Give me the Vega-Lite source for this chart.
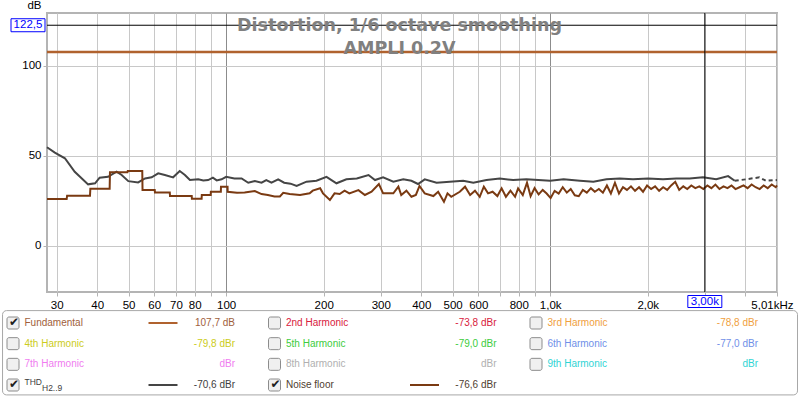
{
  "$schema": "https://vega.github.io/schema/vega-lite/v6.json",
  "width": 730,
  "height": 279,
  "autosize": {"type": "none"},
  "padding": {"left": 47, "top": 13, "right": 23, "bottom": 106},
  "background": "white",
  "config": {
    "view": {"stroke": "#b4b4b4", "strokeWidth": 2},
    "font": "Liberation Sans"
  },
  "title": {
    "text": ["Distortion, 1/6 octave smoothing", "AMPLI 0.2V"],
    "font": "DejaVu Sans",
    "fontSize": 17.5,
    "fontWeight": "bold",
    "color": "#808080",
    "anchor": "middle",
    "frame": "group",
    "orient": "top",
    "baseline": "alphabetic",
    "offset": -72,
    "lineHeight": 22.7,
    "dx": -12.5
  },
  "datasets": {
    "fundamental": [{"f": 28, "db": 107.7}, {"f": 5010, "db": 107.7}],
    "thd": [
      {"f": 28, "db": 54.7}, {"f": 29.6, "db": 51.7}, {"f": 31.8, "db": 48.6}, {"f": 34.1, "db": 41.1},
      {"f": 37.5, "db": 34.1}, {"f": 39.4, "db": 34.7}, {"f": 40.7, "db": 37.8}, {"f": 43.2, "db": 38.3},
      {"f": 45.9, "db": 41.1}, {"f": 47.6, "db": 39.3}, {"f": 49.9, "db": 35.9}, {"f": 53.5, "db": 35.2},
      {"f": 56.2, "db": 37.4}, {"f": 58.9, "db": 38.0}, {"f": 61.7, "db": 40.2}, {"f": 64.7, "db": 39.3},
      {"f": 68.6, "db": 38.0}, {"f": 71.9, "db": 41.5}, {"f": 74.6, "db": 39.3}, {"f": 77.3, "db": 36.5},
      {"f": 82, "db": 36.9}, {"f": 85, "db": 36.3}, {"f": 88, "db": 36.5}, {"f": 91, "db": 37.8},
      {"f": 93.5, "db": 36.3}, {"f": 96.8, "db": 36.9}, {"f": 100, "db": 38.3}, {"f": 106, "db": 37.4},
      {"f": 111.6, "db": 37.4}, {"f": 117, "db": 35.0}, {"f": 122.6, "db": 35.9}, {"f": 128.6, "db": 35.0},
      {"f": 133, "db": 36.5}, {"f": 138, "db": 35.0}, {"f": 144.7, "db": 36.9}, {"f": 151, "db": 35.0},
      {"f": 158, "db": 34.5}, {"f": 165, "db": 33.2}, {"f": 177, "db": 35.6}, {"f": 190, "db": 36.1},
      {"f": 204, "db": 38.3}, {"f": 219, "db": 34.7}, {"f": 235, "db": 36.9}, {"f": 253, "db": 37.4},
      {"f": 275, "db": 39.3}, {"f": 288, "db": 36.5}, {"f": 305, "db": 38.0}, {"f": 328, "db": 35.6},
      {"f": 352, "db": 36.9}, {"f": 373, "db": 36.1}, {"f": 391, "db": 34.3}, {"f": 410, "db": 36.9},
      {"f": 446, "db": 35.0}, {"f": 490, "db": 35.6}, {"f": 539, "db": 36.1}, {"f": 579, "db": 35.0},
      {"f": 636, "db": 36.5}, {"f": 699, "db": 37.4}, {"f": 768, "db": 36.5}, {"f": 844, "db": 36.9},
      {"f": 919, "db": 36.5}, {"f": 1000, "db": 36.1}, {"f": 1100, "db": 36.9}, {"f": 1235, "db": 36.1},
      {"f": 1359, "db": 35.6}, {"f": 1491, "db": 36.9}, {"f": 1638, "db": 37.4}, {"f": 1801, "db": 36.9},
      {"f": 2004, "db": 37.4}, {"f": 2229, "db": 36.9}, {"f": 2450, "db": 37.4}, {"f": 2693, "db": 37.4},
      {"f": 2960, "db": 38.0}, {"f": 3253, "db": 36.9}, {"f": 3540, "db": 38.7}, {"f": 3710, "db": 36.1},
      {"f": 4020, "db": 36.9}, {"f": 4420, "db": 38.0}, {"f": 4630, "db": 36.1}, {"f": 5010, "db": 36.5}
    ],
    "noise": [
      {"f": 28, "db": 25.9}, {"f": 32.2, "db": 25.9}, {"f": 32.3, "db": 27.8}, {"f": 38.0, "db": 27.8},
      {"f": 38.1, "db": 31.7}, {"f": 43.7, "db": 31.7}, {"f": 43.8, "db": 40.8}, {"f": 49.6, "db": 40.8},
      {"f": 49.7, "db": 41.5}, {"f": 55.1, "db": 41.5}, {"f": 55.2, "db": 30.9}, {"f": 60.2, "db": 30.9},
      {"f": 60.3, "db": 29.6}, {"f": 67, "db": 29.6}, {"f": 67.1, "db": 27.6}, {"f": 78.3, "db": 27.6},
      {"f": 78.4, "db": 26.1}, {"f": 84, "db": 26.1}, {"f": 84.1, "db": 28.2}, {"f": 89.6, "db": 28.2},
      {"f": 89.7, "db": 30.0}, {"f": 96.3, "db": 30.0}, {"f": 96.4, "db": 32.8}, {"f": 101, "db": 32.8},
      {"f": 101.1, "db": 30.0}, {"f": 108, "db": 29.4}, {"f": 114, "db": 29.6}, {"f": 122.6, "db": 30.4},
      {"f": 128.6, "db": 28.7}, {"f": 134.5, "db": 28.2}, {"f": 141, "db": 27.4}, {"f": 146.5, "db": 27.4},
      {"f": 150, "db": 29.4}, {"f": 157, "db": 28.7}, {"f": 169, "db": 28.2}, {"f": 181, "db": 29.1},
      {"f": 185, "db": 30.6}, {"f": 195, "db": 31.9}, {"f": 199, "db": 29.1}, {"f": 209, "db": 25.4},
      {"f": 216, "db": 29.1}, {"f": 224, "db": 28.7}, {"f": 232, "db": 30.6}, {"f": 240, "db": 29.1},
      {"f": 256, "db": 30.9}, {"f": 268, "db": 28.2}, {"f": 281, "db": 30.0}, {"f": 296, "db": 34.3},
      {"f": 305, "db": 29.1}, {"f": 328, "db": 29.1}, {"f": 340, "db": 32.8}, {"f": 347, "db": 28.2},
      {"f": 360, "db": 30.6}, {"f": 373, "db": 27.2}, {"f": 385, "db": 28.2}, {"f": 395, "db": 33.2},
      {"f": 410, "db": 29.1}, {"f": 436, "db": 27.6}, {"f": 451, "db": 30.0}, {"f": 470, "db": 24.4},
      {"f": 482, "db": 29.1}, {"f": 495, "db": 27.2}, {"f": 526, "db": 30.0}, {"f": 546, "db": 32.8},
      {"f": 566, "db": 28.2}, {"f": 586, "db": 30.6}, {"f": 606, "db": 27.2}, {"f": 624, "db": 32.8},
      {"f": 643, "db": 29.1}, {"f": 664, "db": 30.0}, {"f": 687, "db": 27.6}, {"f": 708, "db": 31.9},
      {"f": 730, "db": 27.2}, {"f": 754, "db": 30.6}, {"f": 779, "db": 27.2}, {"f": 796, "db": 31.9},
      {"f": 823, "db": 28.2}, {"f": 848, "db": 35.0}, {"f": 870, "db": 27.5}, {"f": 895, "db": 32.0},
      {"f": 921, "db": 28.5}, {"f": 948, "db": 31.0}, {"f": 975, "db": 29.0}, {"f": 1003, "db": 26.5},
      {"f": 1032, "db": 30.5}, {"f": 1062, "db": 29.0}, {"f": 1093, "db": 32.5}, {"f": 1125, "db": 29.5},
      {"f": 1157, "db": 31.5}, {"f": 1191, "db": 28.0}, {"f": 1225, "db": 27.5}, {"f": 1261, "db": 31.0},
      {"f": 1297, "db": 29.5}, {"f": 1335, "db": 32.0}, {"f": 1373, "db": 30.0}, {"f": 1413, "db": 31.5},
      {"f": 1454, "db": 29.5}, {"f": 1496, "db": 33.5}, {"f": 1539, "db": 29.0}, {"f": 1584, "db": 35.0},
      {"f": 1630, "db": 29.0}, {"f": 1677, "db": 32.5}, {"f": 1725, "db": 31.0}, {"f": 1775, "db": 33.0},
      {"f": 1827, "db": 30.5}, {"f": 1880, "db": 32.5}, {"f": 1934, "db": 30.0}, {"f": 1990, "db": 33.5},
      {"f": 2048, "db": 31.5}, {"f": 2107, "db": 33.0}, {"f": 2168, "db": 30.5}, {"f": 2231, "db": 32.5},
      {"f": 2296, "db": 31.0}, {"f": 2362, "db": 33.5}, {"f": 2431, "db": 35.5}, {"f": 2501, "db": 31.0},
      {"f": 2574, "db": 33.0}, {"f": 2648, "db": 31.5}, {"f": 2725, "db": 33.5}, {"f": 2804, "db": 32.0},
      {"f": 2885, "db": 33.0}, {"f": 2969, "db": 31.5}, {"f": 3055, "db": 33.5}, {"f": 3143, "db": 32.0},
      {"f": 3234, "db": 34.0}, {"f": 3328, "db": 31.5}, {"f": 3425, "db": 33.0}, {"f": 3524, "db": 32.0},
      {"f": 3626, "db": 33.5}, {"f": 3731, "db": 31.5}, {"f": 3839, "db": 32.5}, {"f": 3950, "db": 33.5},
      {"f": 4065, "db": 32.0}, {"f": 4183, "db": 34.0}, {"f": 4304, "db": 32.5}, {"f": 4429, "db": 31.5},
      {"f": 4557, "db": 33.5}, {"f": 4689, "db": 32.0}, {"f": 4825, "db": 34.0}, {"f": 4965, "db": 32.5},
      {"f": 5010, "db": 33.5}
    ],
    "cursor": [{"f": 3000, "db": 122.5, "flab": "3,00k", "dblab": "122,5"}],
    "legend": [
      {"col": 0, "row": 0, "name": "Fundamental", "val": "107,7 dB", "checked": true, "line": true},
      {"col": 1, "row": 0, "name": "2nd Harmonic", "val": "-73,8 dBr", "checked": false, "line": false},
      {"col": 2, "row": 0, "name": "3rd Harmonic", "val": "-78,8 dBr", "checked": false, "line": false},
      {"col": 0, "row": 1, "name": "4th Harmonic", "val": "-79,8 dBr", "checked": false, "line": false},
      {"col": 1, "row": 1, "name": "5th Harmonic", "val": "-79,0 dBr", "checked": false, "line": false},
      {"col": 2, "row": 1, "name": "6th Harmonic", "val": "-77,0 dBr", "checked": false, "line": false},
      {"col": 0, "row": 2, "name": "7th Harmonic", "val": "dBr", "checked": false, "line": false},
      {"col": 1, "row": 2, "name": "8th Harmonic", "val": "dBr", "checked": false, "line": false},
      {"col": 2, "row": 2, "name": "9th Harmonic", "val": "dBr", "checked": false, "line": false},
      {"col": 0, "row": 3, "name": "THD", "sub": "H2..9", "val": "-70,6 dBr", "checked": true, "line": true},
      {"col": 1, "row": 3, "name": "Noise floor", "val": "-76,6 dBr", "checked": true, "line": true}
    ]
  },
  "layer": [
    {
      "layer": [
        {
          "encoding": {
            "x": {
              "field": "f", "type": "quantitative", "title": null,
              "scale": {"type": "log", "domain": [28, 5010], "nice": false},
              "axis": {
                "values": [30, 40, 50, 60, 70, 80, 90, 100, 200, 300, 400, 500, 600, 700, 800, 900, 1000, 2000, 3000, 4000, 5010],
                "labelExpr": "datum.value > 5000 ? '5,01kHz' : datum.value == 1000 ? '1,0k' : datum.value == 2000 ? '2,0k' : (datum.value == 90 || datum.value == 700 || datum.value == 900 || datum.value >= 3000) ? '' : datum.label",
                "title": null,
                "grid": true,
                "gridColor": {"condition": {"test": "datum.value == 100 || datum.value == 1000", "value": "#8c8c8c"}, "value": "#c8c8c8"},
                "gridWidth": 1,
                "domain": false,
                "ticks": true, "tickSize": 4, "tickColor": "#b4b4b4",
                "labelFont": "Liberation Sans", "labelFontSize": 11.5, "labelColor": "#000000", "labelPadding": 3,
                "labelOverlap": false, "labelBound": false, "labelFlush": 1, "labelFlushOffset": 16
              }
            },
            "y": {
              "field": "db", "type": "quantitative", "title": "dB",
              "scale": {"domain": [-25.7, 129.3], "nice": false, "zero": false},
              "axis": {
                "values": [0, 50, 100],
                "title": "dB", "titleAngle": 0, "titleAlign": "right", "titleBaseline": "alphabetic",
                "titleX": -6, "titleY": -4.5, "titleFont": "Liberation Sans", "titleFontSize": 11.5,
                "titleFontWeight": "normal", "titleColor": "#000000",
                "grid": true, "gridColor": "#c8c8c8", "domain": false,
                "tickSize": 4, "tickColor": "#b4b4b4",
                "labelFont": "Liberation Sans", "labelFontSize": 11.5, "labelColor": "#000000", "labelPadding": 2
              }
            }
          },
          "layer": [
            {"data": {"name": "fundamental"}, "mark": {"type": "line", "stroke": "#b0622e", "strokeWidth": 2.5}},
            {"data": {"name": "thd"}, "transform": [{"filter": "datum.f <= 3710"}], "mark": {"type": "line", "stroke": "#454545", "strokeWidth": 2}},
            {"data": {"name": "thd"}, "transform": [{"filter": "datum.f >= 3710"}], "mark": {"type": "line", "stroke": "#454545", "strokeWidth": 2, "strokeDash": [4, 3]}},
            {"data": {"name": "noise"}, "mark": {"type": "line", "stroke": "#7a3a12", "strokeWidth": 2}}
          ]
        },
        {
          "data": {"name": "cursor"},
          "layer": [
            {"mark": {"type": "rule", "color": "#000000", "strokeWidth": 1}, "encoding": {"y": {"field": "db", "type": "quantitative", "title": "dB"}}},
            {"mark": {"type": "rule", "color": "#000000", "strokeWidth": 1}, "encoding": {"x": {"field": "f", "type": "quantitative", "title": null}}},
            {"mark": {"type": "rect", "width": 34, "height": 13, "fill": "#ffffff", "stroke": "#0000ff", "strokeWidth": 1, "xOffset": -19},
             "encoding": {"x": {"datum": 28, "type": "quantitative"}, "y": {"field": "db", "type": "quantitative", "title": "dB"}}},
            {"mark": {"type": "text", "color": "#0000ff", "font": "Liberation Sans", "fontSize": 11.5, "dx": -19, "align": "center", "baseline": "middle"},
             "encoding": {"x": {"datum": 28, "type": "quantitative"}, "y": {"field": "db", "type": "quantitative", "title": "dB"}, "text": {"field": "dblab"}}},
            {"mark": {"type": "rect", "width": 34, "height": 12, "fill": "#ffffff", "stroke": "#0000ff", "strokeWidth": 1, "yOffset": 9.5},
             "encoding": {"x": {"field": "f", "type": "quantitative", "title": null}, "y": {"datum": -25.7, "type": "quantitative", "title": "dB"}}},
            {"mark": {"type": "text", "color": "#0000ff", "font": "Liberation Sans", "fontSize": 11.5, "dy": 9.5, "align": "center", "baseline": "middle"},
             "encoding": {"x": {"field": "f", "type": "quantitative", "title": null}, "y": {"datum": -25.7, "type": "quantitative", "title": "dB"}, "text": {"field": "flab"}}}
          ]
        }
      ]
    },
    {
      "data": {"name": "legend"},
      "encoding": {
        "x": {"field": "col", "type": "quantitative", "scale": {"domain": [0, 2], "range": [-34, 489]}, "axis": null},
        "y": {"field": "row", "type": "quantitative", "scale": {"domain": [0, 3], "range": [310, 372]}, "axis": null}
      },
      "layer": [
        {
          "transform": [{"filter": "datum.col == 0 && datum.row == 0"}],
          "mark": {"type": "rect", "fill": "#ffffff", "stroke": "#a8a8a8", "strokeWidth": 1, "cornerRadius": 4},
          "encoding": {
            "x": {"datum": -0.04, "type": "quantitative"}, "x2": {"datum": 3.0},
            "y": {"datum": -0.6, "type": "quantitative"}, "y2": {"datum": 3.48}
          }
        },
        {"mark": {"type": "rect", "width": 12, "height": 12, "cornerRadius": 2, "fill": "#f0f0f0", "stroke": "#8c8c8c", "strokeWidth": 1}},
        {
          "transform": [{"filter": "datum.checked"}],
          "mark": {"type": "text", "text": "✔", "font": "DejaVu Sans", "fontSize": 12, "color": "#202020", "align": "center", "baseline": "middle", "dx": 1, "dy": -1}
        },
        {
          "transform": [{"filter": "!datum.sub"}],
          "mark": {"type": "text", "align": "left", "baseline": "middle", "dx": 11.5, "font": "Liberation Sans", "fontSize": 10},
          "encoding": {
            "text": {"field": "name"},
            "color": {"field": "name", "type": "nominal", "legend": null,
              "scale": {"domain": ["Fundamental", "2nd Harmonic", "3rd Harmonic", "4th Harmonic", "5th Harmonic", "6th Harmonic", "7th Harmonic", "8th Harmonic", "9th Harmonic", "THD", "Noise floor"],
                        "range": ["#a0603c", "#d8203c", "#f0a040", "#cccc20", "#40cc40", "#7090e8", "#f07cf0", "#b0b0b0", "#30d4d4", "#404040", "#504030"]}}
          }
        },
        {
          "transform": [{"filter": "datum.sub"}],
          "mark": {"type": "text", "align": "left", "baseline": "middle", "dx": 11.5, "dy": -3.3, "font": "Liberation Sans", "fontSize": 8.5, "color": "#404040"},
          "encoding": {"text": {"field": "name"}}
        },
        {
          "transform": [{"filter": "datum.sub"}],
          "mark": {"type": "text", "align": "left", "baseline": "middle", "dx": 29, "dy": 3, "font": "Liberation Sans", "fontSize": 8.5, "color": "#404040"},
          "encoding": {"text": {"field": "sub"}}
        },
        {
          "transform": [{"filter": "datum.line"}],
          "mark": {"type": "rule", "strokeWidth": 2, "xOffset": 135.5, "x2Offset": 164.5},
          "encoding": {
            "x2": {"field": "col"},
            "stroke": {"field": "name", "type": "nominal", "legend": null,
              "scale": {"domain": ["Fundamental", "THD", "Noise floor"], "range": ["#b0622e", "#454545", "#7a3a12"]}}
          }
        },
        {
          "mark": {"type": "text", "align": "right", "baseline": "middle", "dx": 222, "font": "Liberation Sans", "fontSize": 10},
          "encoding": {
            "text": {"field": "val"},
            "color": {"field": "name", "type": "nominal", "legend": null}
          }
        }
      ]
    }
  ],
  "resolve": {"scale": {"x": "independent", "y": "independent"}}
}
